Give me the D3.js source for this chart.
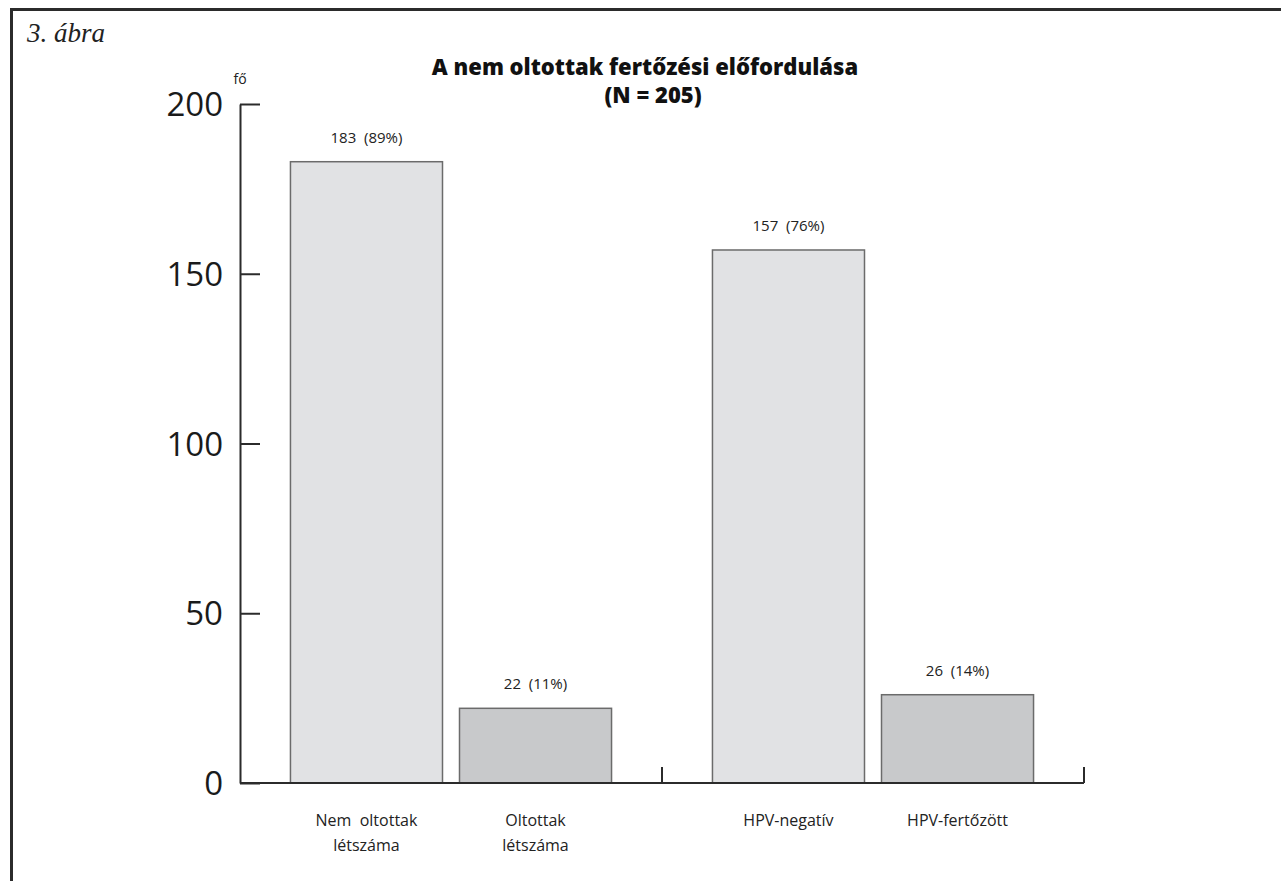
<!DOCTYPE html>
<html>
<head>
<meta charset="utf-8">
<script src="https://cdn.jsdelivr.net/npm/d3@7"></script>
<style>
  html, body { margin: 0; padding: 0; background: #fff; }
  svg { display: block; }
</style>
</head>
<body>
<svg id="chart" width="1281" height="881"></svg>
<script>
// Bar groups and their categories
const groups = ["oltottság", "fertőzés"];
const categoryGroup = ["oltottság", "oltottság", "fertőzés", "fertőzés"];
const categoryKeys = ["first", "second", "first", "second"];
const categoryLabels = [["Nem  oltottak", "létszáma"], ["Oltottak", "létszáma"], ["HPV-negatív"], ["HPV-fertőzött"]];
// Counts (persons) and their shares
const values = [183, 22, 157, 26];
const percents = [89, 11, 76, 14];
const yTicks = [0, 50, 100, 150, 200];
const yMax = 200;

const svg = d3.select("#chart");
const sans = "'Open Sans', 'Noto Sans', sans-serif";

// Frame lines (top and left)
svg.append("path")
  .attr("d", "M11.5,881 V9.5 H1281")
  .attr("fill", "none")
  .attr("stroke", "#2b2b2b")
  .attr("stroke-width", 3);

// Figure number
svg.append("text")
  .attr("x", 27).attr("y", 42)
  .attr("font-family", "'Liberation Serif', 'DejaVu Serif', serif")
  .attr("font-style", "italic")
  .attr("font-size", 27)
  .attr("fill", "#222")
  .text("3. ábra");

// Scales
const y = d3.scaleLinear().domain([0, yMax]).range([783, 104]);
const xGroup = d3.scaleBand().domain(groups).range([240, 1084]).padding(0);
const xInner = d3.scaleBand().domain(["first", "second"]).range([0, xGroup.bandwidth()])
  .paddingInner(0.1006).paddingOuter(0.2985);
const barX = i => xGroup(categoryGroup[i]) + xInner(categoryKeys[i]);
const barCx = i => barX(i) + xInner.bandwidth() / 2;
const fills = { first: "#e1e2e4", second: "#c8c9cb" };

// Title
const title = svg.append("text")
  .attr("text-anchor", "middle")
  .attr("font-family", sans)
  .attr("font-weight", 800)
  .attr("font-size", 22)
  .attr("fill", "#111");
title.append("tspan").attr("x", 645).attr("y", 75).text("A nem oltottak fertőzési előfordulása");
title.append("tspan").attr("x", 653).attr("y", 103).text("(N = 205)");

// Unit label
svg.append("text")
  .attr("x", 240).attr("y", 84)
  .attr("text-anchor", "middle")
  .attr("font-family", sans)
  .attr("font-size", 14)
  .attr("fill", "#222")
  .text("fő");

// Bars
const idx = d3.range(values.length);
svg.append("g").selectAll("rect")
  .data(idx)
  .join("rect")
  .attr("x", i => barX(i))
  .attr("y", i => y(values[i]))
  .attr("width", xInner.bandwidth())
  .attr("height", i => y(0) - y(values[i]))
  .attr("fill", i => fills[categoryKeys[i]])
  .attr("stroke", "#6b6b6b")
  .attr("stroke-width", 1.5);

// Value labels
svg.append("g").selectAll("text")
  .data(idx)
  .join("text")
  .attr("x", i => barCx(i))
  .attr("y", i => y(values[i]) - 19)
  .attr("text-anchor", "middle")
  .attr("font-family", sans)
  .attr("font-size", 15)
  .attr("fill", "#222")
  .attr("xml:space", "preserve")
  .text(i => `${values[i]}  (${percents[i]}%)`);

// Y axis
const yAxis = d3.axisRight(y).tickValues(yTicks).tickSize(20).tickSizeOuter(0);
const gy = svg.append("g").attr("transform", "translate(240,0)").call(yAxis);
gy.select(".domain").attr("stroke", "#2b2b2b").attr("stroke-width", 2);
gy.selectAll(".tick line").attr("stroke", "#2b2b2b").attr("stroke-width", 2);
gy.selectAll(".tick text")
  .attr("x", -17)
  .attr("dy", "0.35em")
  .attr("text-anchor", "end")
  .attr("font-family", sans)
  .attr("font-size", 33)
  .attr("fill", "#1a1a1a");

// X baseline with group separators
const gx = svg.append("g");
gx.append("line")
  .attr("x1", xGroup.range()[0]).attr("x2", xGroup.range()[1])
  .attr("y1", y(0)).attr("y2", y(0))
  .attr("stroke", "#2b2b2b").attr("stroke-width", 2);
gx.selectAll("line.sep")
  .data(groups)
  .join("line")
  .attr("class", "sep")
  .attr("x1", g => xGroup(g) + xGroup.bandwidth())
  .attr("x2", g => xGroup(g) + xGroup.bandwidth())
  .attr("y1", y(0)).attr("y2", y(0) - 16)
  .attr("stroke", "#2b2b2b").attr("stroke-width", 2);

// Category labels
const cat = svg.append("g").selectAll("text")
  .data(idx)
  .join("text")
  .attr("text-anchor", "middle")
  .attr("font-family", sans)
  .attr("font-size", 16)
  .attr("fill", "#222")
  .attr("xml:space", "preserve");
cat.each(function(i) {
  const t = d3.select(this);
  categoryLabels[i].forEach((line, k) => {
    t.append("tspan").attr("x", barCx(i)).attr("y", 826 + k * 25).text(line);
  });
});
</script>
</body>
</html>
